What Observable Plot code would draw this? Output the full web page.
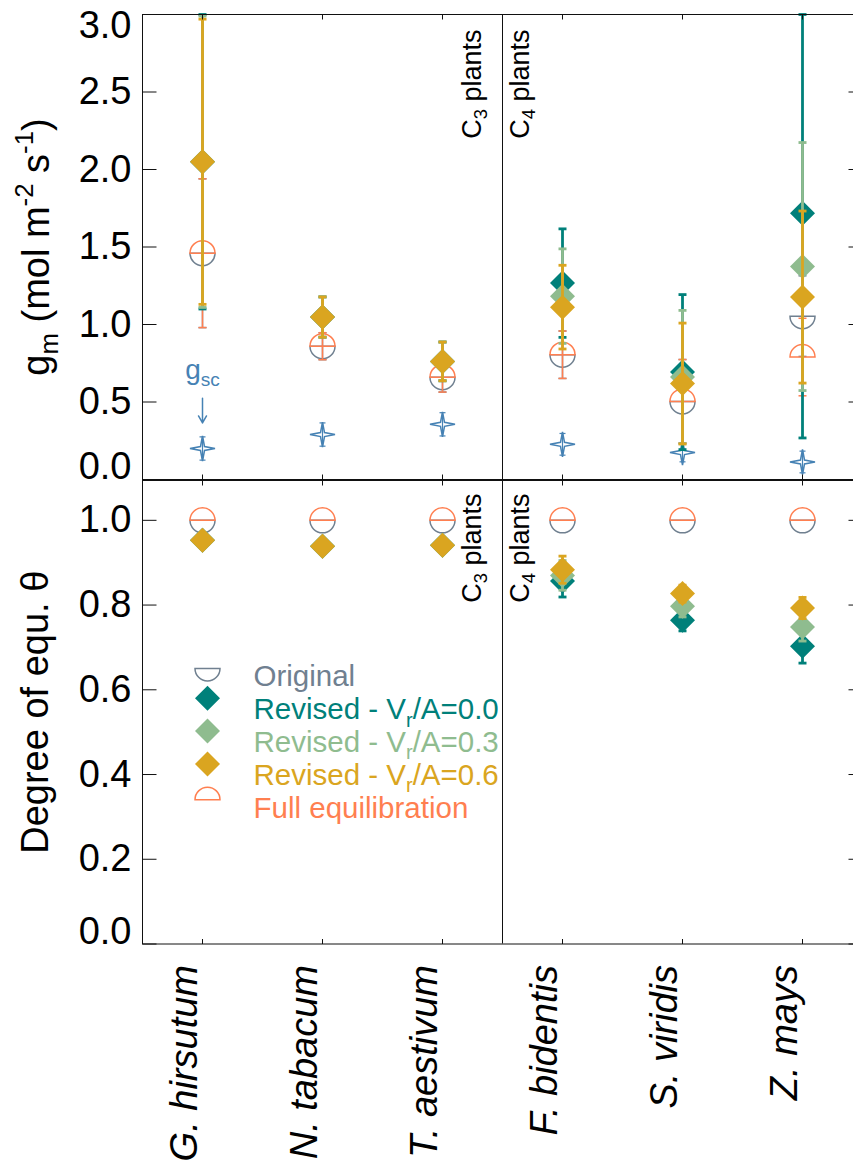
<!DOCTYPE html>
<html><head><meta charset="utf-8">
<script src="https://cdn.jsdelivr.net/npm/d3@7"></script>
<script src="https://cdn.jsdelivr.net/npm/@observablehq/plot@0.6"></script>
<style>
html,body{margin:0;padding:0;background:#fff;overflow:hidden}
#wrap{width:853px;height:1169px;overflow:hidden;position:relative;background:#fff}
#wrap svg{display:block;max-width:none;position:absolute;left:0}
</style></head><body><div id="wrap"></div>
<script>
// ---------------- data ----------------
const species = ["G. hirsutum","N. tabacum","T. aestivum","F. bidentis","S. viridis","Z. mays"];

// top panel: g_m (mol m-2 s-1), mean and error
const gmOriginal    = [1.46, 0.86, 0.66, 0.805, 0.504, 1.054];
const gmOriginalErr = [0.48, 0.087, 0.096, 0.153, 0.27, 0.26];
const gmFull        = [1.46, 0.86, 0.66, 0.805, 0.504, 0.79];
const gmFullErr     = [0.48, 0.087, 0.096, 0.153, 0.27, 0.25];
const gmRev00       = [2.05, 1.048, 0.762, 1.267, 0.693, 1.718];
const gmRev00Err    = [0.95, 0.13, 0.125, 0.35, 0.50, 1.45];
const gmRev03       = [2.05, 1.048, 0.762, 1.183, 0.661, 1.374];
const gmRev03Err    = [0.94, 0.13, 0.125, 0.305, 0.43, 0.80];
const gmRev06       = [2.05, 1.048, 0.762, 1.112, 0.619, 1.177];
const gmRev06Err    = [0.92, 0.13, 0.125, 0.27, 0.39, 0.555];
const gsc           = [0.20, 0.29, 0.356, 0.227, 0.174, 0.113];
const gscErr        = [0.075, 0.075, 0.075, 0.07, 0.06, 0.07];

// bottom panel: degree of equilibration theta
const thOriginal = [1, 1, 1, 1, 1, 1];
const thFull     = [1, 1, 1, 1, 1, 1];
const thRev00    = [0.953, 0.939, 0.941, 0.857, 0.764, 0.703];
const thRev00Err = [0, 0, 0, 0.038, 0.025, 0.040];
const thRev03    = [0.953, 0.939, 0.941, 0.870, 0.797, 0.748];
const thRev03Err = [0, 0, 0, 0.035, 0.025, 0.033];
const thRev06    = [0.953, 0.939, 0.941, 0.8835, 0.827, 0.793];
const thRev06Err = [0, 0, 0, 0.032, 0.020, 0.025];

const gmTicks = [0, 0.5, 1.0, 1.5, 2.0, 2.5, 3.0];
const thTicks = [0, 0.2, 0.4, 0.6, 0.8, 1.0];
const seriesNames = ["Original", "Revised - V_{r}/A=0.0", "Revised - V_{r}/A=0.3", "Revised - V_{r}/A=0.6", "Full equilibration"];
const seriesColors = ["#708090", "#00807a", "#8fbc8f", "#daa520", "#ff7f50"];
const gscColor = "#4682b4";
const groupLabels = ["C_{3} plants", "C_{4} plants"];

// ---------------- symbols ----------------
const rOf = s => Math.sqrt(s / Math.PI);
const diamond = {draw(c, s){const r=rOf(s); c.moveTo(0,-r); c.lineTo(r,0); c.lineTo(0,r); c.lineTo(-r,0); c.closePath();}};
const lowerHalf = {draw(c, s){const r=rOf(s); c.moveTo(-r,0); c.arc(0,0,r,Math.PI,0,true); c.closePath();}};
const upperHalf = {draw(c, s){const r=rOf(s); c.moveTo(-r,0); c.arc(0,0,r,Math.PI,2*Math.PI,false); c.closePath();}};
const star = {draw(c, s){const r=rOf(s), k=0.16*r;
  c.moveTo(0,-r); c.lineTo(k,-k); c.lineTo(r,0); c.lineTo(k,k); c.lineTo(0,r);
  c.lineTo(-k,k); c.lineTo(-r,0); c.lineTo(-k,-k); c.closePath();}};
const hcap = {draw(c, s){const r=rOf(s); c.moveTo(-r,0); c.lineTo(r,0);}};
const tickRight = {draw(c, s){const r=rOf(s); c.moveTo(0,0); c.lineTo(r,0);}};
const tickLeft = {draw(c, s){const r=rOf(s); c.moveTo(0,0); c.lineTo(-r,0);}};
const tickDown = {draw(c, s){const r=rOf(s); c.moveTo(0,0); c.lineTo(0,r);}};
const tickUp = {draw(c, s){const r=rOf(s); c.moveTo(0,0); c.lineTo(0,-r);}};

const FONT = "'Liberation Sans', Arial, Helvetica, sans-serif";
const AX = "#111";

function seriesMarks(vals, errs, o) {
  const rows = species.map((sp, i) => ({sp, v: vals[i], e: errs ? errs[i] : 0}));
  const withErr = rows.filter(d => d.e > 0);
  const caps = withErr.flatMap(d => [{sp: d.sp, y: d.v - d.e}, {sp: d.sp, y: d.v + d.e}]);
  return [
    Plot.ruleX(withErr, {x: "sp", y1: d => d.v - d.e, y2: d => d.v + d.e, stroke: o.color, strokeWidth: o.sw}),
    Plot.dot(caps, {x: "sp", y: "y", symbol: hcap, r: o.capR, stroke: o.color, strokeWidth: o.sw, fill: "none"}),
    Plot.dot(rows, {x: "sp", y: "v", symbol: o.symbol, r: o.r,
      fill: o.filled ? o.color : "none", stroke: o.filled ? "none" : o.color, strokeWidth: 1.5})
  ];
}

function frameMarks(ticks) {
  return [
    Plot.frame({stroke: AX, strokeWidth: 1}),
    Plot.ruleX([species[3]], {x: d => d, dx: -60, stroke: AX, strokeWidth: 1}),
    Plot.dot(ticks, {y: d => d, frameAnchor: "left", symbol: tickRight, r: 14, stroke: AX, strokeWidth: 1}),
    Plot.dot(ticks, {y: d => d, frameAnchor: "right", symbol: tickLeft, r: 14, stroke: AX, strokeWidth: 1}),
    Plot.dot(species, {x: d => d, frameAnchor: "top", symbol: tickDown, r: 5, stroke: AX, strokeWidth: 1}),
    Plot.dot(species, {x: d => d, frameAnchor: "bottom", symbol: tickUp, r: 5, stroke: AX, strokeWidth: 1})
  ];
}

function groupLabelMarks(dyTop) {
  return [
    Plot.text([groupLabels[0]], {x: () => species[2], frameAnchor: "top", dx: 19, dy: dyTop, rotate: -90, textAnchor: "end", fontSize: 27, fill: "black", text: d => d}),
    Plot.text([groupLabels[1]], {x: () => species[3], frameAnchor: "top", dx: -53, dy: dyTop, rotate: -90, textAnchor: "end", fontSize: 27, fill: "black", text: d => d})
  ];
}

function tickLabelMarks(ticks, lowShift, highShift) {
  const lo = ticks[0], hi = ticks[ticks.length - 1];
  const common = {y: d => d, text: d => d.toFixed(1), frameAnchor: "left", textAnchor: "end", dx: -11, fontSize: 38, fill: "black"};
  return [
    Plot.text(ticks.filter(t => t !== lo && t !== hi), common),
    Plot.text([lo], {...common, dy: lowShift}),
    Plot.text([hi], {...common, dy: highShift})
  ];
}

const diamondOpts = i => ({color: seriesColors[i], symbol: diamond, r: 12.5, filled: true, sw: 2.8, capR: 4});

// ---------------- top panel ----------------
const topPlot = Plot.plot({
  width: 862, height: 494,
  marginTop: 14, marginBottom: 15, marginLeft: 142, marginRight: 0,
  style: {fontFamily: FONT, maxWidth: "none", background: "transparent"},
  x: {type: "point", domain: species, padding: 0.5, axis: null},
  y: {domain: [0, 3], clamp: true, axis: null},
  marks: [
    ...seriesMarks(gmOriginal, gmOriginalErr, {color: seriesColors[0], symbol: lowerHalf, r: 12.5, filled: false, sw: 1.5, capR: 4}),
    ...seriesMarks(gmFull, gmFullErr, {color: seriesColors[4], symbol: upperHalf, r: 12.5, filled: false, sw: 1.5, capR: 4}),
    ...seriesMarks(gsc, gscErr, {color: gscColor, symbol: star, r: 12.5, filled: false, sw: 1.2, capR: 3}),
    ...seriesMarks(gmRev00, gmRev00Err, diamondOpts(1)),
    ...seriesMarks(gmRev03, gmRev03Err, diamondOpts(2)),
    ...seriesMarks(gmRev06, gmRev06Err, diamondOpts(3)),
    Plot.text(["g_{sc}"], {x: () => species[0], y: () => 0.705, text: d => d, fill: gscColor, fontSize: 28, textAnchor: "middle"}),
    Plot.arrow([species[0]], {x1: d => d, x2: d => d, y1: () => 0.524, y2: () => 0.365, stroke: gscColor, strokeWidth: 1.5, headLength: 8}),
    ...frameMarks(gmTicks),
    ...groupLabelMarks(15),
    ...tickLabelMarks(gmTicks, -13, 11),
    Plot.text(["g_{m} (mol m^{-2} s^{-1})"], {frameAnchor: "left", dx: -106, rotate: -90, textAnchor: "middle", fontSize: 38, fill: "black", text: d => d})
  ]
});

// ---------------- bottom panel ----------------
const legendMarks = seriesNames.flatMap((name, i) => {
  const dy = 185 + 32.8 * i;
  const half = i === 0 || i === 4;
  return [
    Plot.dot([name], {frameAnchor: "top-left", dx: 65, dy: dy + (half ? 3 : 0),
      symbol: i === 0 ? lowerHalf : i === 4 ? upperHalf : diamond, r: 12.5,
      fill: half ? "none" : seriesColors[i], stroke: half ? seriesColors[i] : "none", strokeWidth: 1.5}),
    Plot.text([name], {frameAnchor: "top-left", dx: 111, dy, text: d => d, textAnchor: "start", fill: seriesColors[i], fontSize: 29.5})
  ];
});

const bottomPlot = Plot.plot({
  width: 862, height: 689,
  marginTop: 0, marginBottom: 225.5, marginLeft: 142, marginRight: 0,
  style: {fontFamily: FONT, maxWidth: "none", background: "transparent"},
  x: {type: "point", domain: species, padding: 0.5, axis: null},
  y: {domain: [0, 1.094], clamp: true, axis: null},
  marks: [
    ...seriesMarks(thOriginal, null, {color: seriesColors[0], symbol: lowerHalf, r: 12.5, filled: false, sw: 1.5, capR: 4}),
    ...seriesMarks(thFull, null, {color: seriesColors[4], symbol: upperHalf, r: 12.5, filled: false, sw: 1.5, capR: 4}),
    ...seriesMarks(thRev00, thRev00Err, diamondOpts(1)),
    ...seriesMarks(thRev03, thRev03Err, diamondOpts(2)),
    ...seriesMarks(thRev06, thRev06Err, diamondOpts(3)),
    ...legendMarks,
    ...frameMarks(thTicks),
    ...groupLabelMarks(13),
    ...tickLabelMarks(thTicks, -12, 0),
    Plot.text(["Degree of equ. θ"], {frameAnchor: "left", dx: -107, rotate: -90, textAnchor: "middle", fontSize: 38, fill: "black", text: d => d}),
    Plot.text(species, {x: d => d, frameAnchor: "bottom", dy: 21, dx: -6, rotate: -90, textAnchor: "end", fontStyle: "italic", fontSize: 38, fill: "black", text: d => d})
  ]
});

const wrap = document.getElementById("wrap");
topPlot.style.top = "0px";
bottomPlot.style.top = "480px";
wrap.appendChild(bottomPlot);
wrap.appendChild(topPlot);

// rich text: _{...} subscript, ^{...} superscript
function richify(svg) {
  svg.querySelectorAll("text").forEach(t => {
    const s = t.textContent;
    if (!/[_^]\{/.test(s)) return;
    const holder = t.closest("[font-size]");
    const fs = holder ? parseFloat(holder.getAttribute("font-size")) : 16;
    t.textContent = "";
    const parts = s.split(/([_^]\{[^}]*\})/).filter(p => p.length);
    let shift = 0;
    for (const p of parts) {
      const ts = document.createElementNS("http://www.w3.org/2000/svg", "tspan");
      let target = 0, txt = p, small = false;
      if (p.startsWith("_{")) { target = fs * 0.25; txt = p.slice(2, -1); small = true; }
      else if (p.startsWith("^{")) { target = -fs * 0.4; txt = p.slice(2, -1); small = true; }
      const dy = target - shift;
      if (dy) ts.setAttribute("dy", dy);
      shift = target;
      if (small) ts.setAttribute("font-size", fs * 0.68);
      ts.textContent = txt;
      t.appendChild(ts);
    }
  });
}
richify(topPlot);
richify(bottomPlot);
</script></body></html>
